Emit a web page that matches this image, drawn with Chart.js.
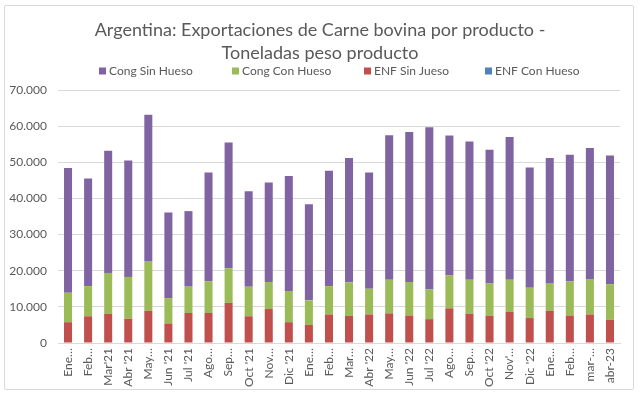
<!DOCTYPE html>
<html>
<head>
<meta charset="utf-8">
<script src="https://cdn.jsdelivr.net/npm/chart.js@4/dist/chart.umd.min.js"></script>
<style>
  html, body { margin: 0; padding: 0; background: #fff; }
  #wrap { position: relative; width: 640px; height: 397px; }
  #frame { position: absolute; left: 4px; top: 5px; width: 630px; height: 385px; border: 1px solid #d9d9d9; border-radius: 2px; box-sizing: border-box; pointer-events: none; }
  canvas { position: absolute; left: 0; top: 0; }
</style>
</head>
<body>
<div id="wrap">
  <canvas id="c" width="640" height="397"></canvas>
  <div id="frame"></div>
</div>
<script>
const categories = ["Ene\u2026","Feb\u2026","Mar'21","Abr '21","May\u2026","Jun '21","Jul '21","Ago\u2026","Sep\u2026","Oct '21","Nov\u2026","Dic '21",
  "Ene\u2026","Feb\u2026","Mar\u2026","Abr '22","May\u2026","Jun '22","Jul '22","Ago\u2026","Sep\u2026","Oct '22","Nov'\u2026","Dic '22",
  "Ene\u2026","Feb\u2026","mar-\u2026","abr-23"];

const enfSinHueso = [5750,7400,8100,6700,8900,5400,8300,8300,11100,7400,9400,5750,
  5000,7900,7500,7900,8200,7600,6600,9600,8100,7500,8600,6900,
  8900,7600,7900,6400];
const enfConHueso = [0,0,0,0,0,0,0,0,0,0,0,0, 0,0,0,0,0,0,0,0,0,0,0,0, 0,0,0,0];
const congConHueso = [8150,8350,11300,11600,13800,7000,7300,8800,9600,8200,7500,8650,
  6800,7850,9300,7100,9300,9300,8200,9100,9400,9000,8900,8400,
  7700,9400,9800,9900];
const congSinHueso = [34500,29750,33800,32200,40500,23700,20900,30100,34800,26400,27500,31800,
  26600,31950,34400,32200,40000,41500,44900,38700,38300,37000,39500,33300,
  34600,35100,36300,35600];

const yTicks = [0,10000,20000,30000,40000,50000,60000,70000];
const legendOrder = ["Cong Sin Hueso","Cong Con Hueso","ENF Sin Jueso","ENF Con Hueso"];

const FONT = "Lato, 'Open Sans', sans-serif";
const GRAY = "#595959";

function fmt(v){ return String(v).replace(/\B(?=(\d{3})+(?!\d))/g, "."); }

// Excel-style legend: evenly spaced columns above the plot
const excelLegend = {
  id: "excelLegend",
  afterDraw(chart, args, opts) {
    const ctx = chart.ctx;
    ctx.save();
    ctx.font = "12px " + FONT;
    ctx.textBaseline = "middle";
    ctx.textAlign = "left";
    legendOrder.forEach((name, i) => {
      const ds = chart.data.datasets.find(d => d.label === name);
      const x = opts.xs[i];
      ctx.fillStyle = ds.backgroundColor;
      ctx.fillRect(x, opts.y - 3.5, 7, 7);
      ctx.fillStyle = GRAY;
      ctx.fillText(name, x + 10, opts.y + 0.5);
    });
    ctx.restore();
  }
};

// Title in Excel is centred on the whole frame, not on the layout box
const shiftTitle = {
  id: "shiftTitle",
  afterLayout(chart) {
    if (chart.titleBlock) { chart.titleBlock.left += 10; chart.titleBlock.right += 10; }
  }
};

new Chart(document.getElementById("c"), {
  type: "bar",
  data: {
    labels: categories,
    datasets: [
      { label: "ENF Sin Jueso", data: enfSinHueso, backgroundColor: "#C0504D" },
      { label: "ENF Con Hueso", data: enfConHueso, backgroundColor: "#4F81BD" },
      { label: "Cong Con Hueso", data: congConHueso, backgroundColor: "#9BBB59" },
      { label: "Cong Sin Hueso", data: congSinHueso, backgroundColor: "#8064A2" }
    ]
  },
  plugins: [excelLegend, shiftTitle],
  options: {
    responsive: false,
    animation: false,
    devicePixelRatio: 1,
    layout: { padding: { left: 0, right: 20, top: 0, bottom: 6 } },
    datasets: { bar: { categoryPercentage: 1.0, barPercentage: 0.4, borderWidth: 0 } },
    plugins: {
      tooltip: { enabled: false },
      legend: { display: false },
      excelLegend: { xs: [99, 232, 364, 485], y: 71 },
      title: {
        display: true,
        text: ["Argentina: Exportaciones de Carne bovina por producto -", "Toneladas peso producto"],
        color: GRAY,
        font: { family: FONT, size: 18, weight: "normal", lineHeight: 1.28 },
        padding: { top: 18.5, bottom: 25.5 }
      }
    },
    scales: {
      x: {
        stacked: true,
        grid: { display: false, drawTicks: false },
        border: { display: true, color: "#d9d9d9" },
        ticks: {
          color: GRAY, font: { family: FONT, size: 12 },
          maxRotation: 90, minRotation: 90, autoSkip: false, padding: 5
        },
        afterFit: s => { s.height = 48; }
      },
      y: {
        stacked: true,
        min: 0, max: 70000,
        afterBuildTicks: s => { s.ticks = yTicks.map(v => ({ value: v })); },
        grid: { color: "#d9d9d9", drawTicks: false },
        border: { display: false },
        ticks: {
          color: GRAY, font: { family: FONT, size: 12 }, padding: 11,
          callback: v => fmt(v)
        },
        afterFit: s => { s.width = 58; }
      }
    }
  }
});
</script>
</body>
</html>
